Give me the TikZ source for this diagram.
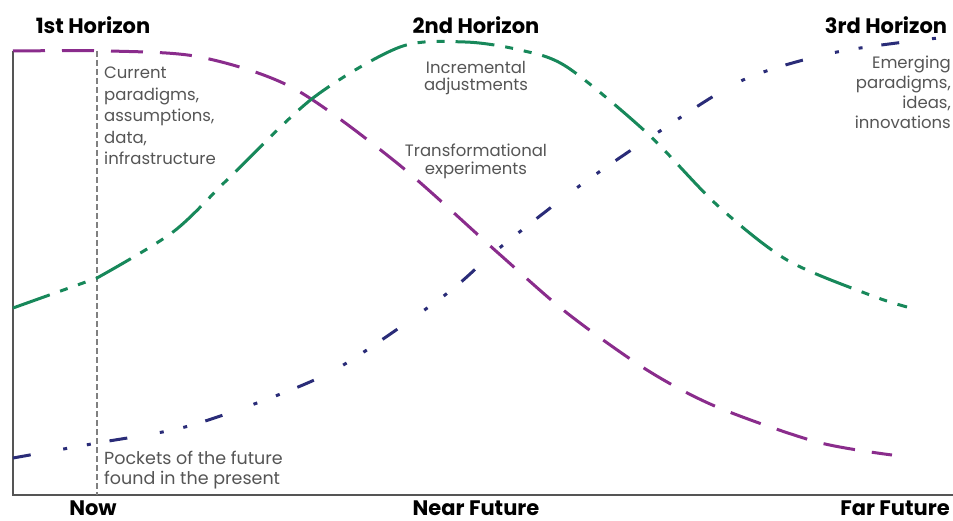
\documentclass[tikz,border=0pt]{standalone}
\usepackage{fontspec}
\setmainfont{Poppins}
\definecolor{hpurple}{HTML}{8A2C8C}
\definecolor{hgreen}{HTML}{17885A}
\definecolor{hblue}{HTML}{2A2C78}
\definecolor{hgray}{HTML}{555555}
\begin{document}
\begin{tikzpicture}[x=1pt,y=-1pt]
\tikzstyle{every node}+=[inner sep=0pt]
\tikzstyle{title}=[font=\fontsize{21}{24}\selectfont\bfseries, text=black]
\tikzstyle{note}=[font=\fontsize{16.5}{17.5}\selectfont, text=hgray]
\tikzstyle{wide note}=[font=\fontsize{16.5}{21.5}\selectfont, text=hgray]
\tikzstyle{axis}=[hgray, line width=2.5pt]
\tikzstyle{curve}=[line width=3pt]
\useasboundingbox (0,0) rectangle (953,521);
\coordinate (top) at (13,51);
\coordinate (o) at (13,495);
\coordinate (end) at (953,495);
\coordinate (nowtop) at (97,51);
\coordinate (nowbot) at (97,495);
\draw [axis] (top) -- (o) -- (end);
\draw [gray, line width=2pt, dash pattern=on 6pt off 3pt] (nowtop) -- (nowbot);
\draw [hpurple, curve, dash pattern=on 32pt off 17pt] plot [smooth] coordinates {(13,51) (110,51) (200,57) (293,88) (397,163) (497,252) (567,313) (647,370) (717,407) (817,442) (892,455)};
\draw [hgreen, curve, dash pattern=on 39pt off 11pt on 8pt off 11pt on 8pt off 11pt] (13,308) -- (97,278) plot [smooth] coordinates {(97,278) (173,232) (230,177) (313,98) (400,47) (465,42) (520,50) (567,67) (647,133) (717,205) (787,260) (870,295) (907,307)};
\draw [hblue, curve, dash pattern=on 18pt off 33pt on 4pt off 20pt on 4pt off 19pt] plot [smooth] coordinates {(13,458) (97,443) (185,427) (278,395) (345,364) (445,295) (497,250) (578,187) (657,133) (743,80) (837,52) (947,37)};
\node [title] (h1) at (93,25) {1st Horizon};
\node [title] (h2) at (476,25) {2nd Horizon};
\node [title] (h3) at (886,25) {3rd Horizon};
\node [wide note, align=left, anchor=north west] (current) at (104,67) {Current\\paradigms,\\assumptions,\\data,\\infrastructure};
\node [note, align=center, anchor=north] (incr) at (476,61) {Incremental\\adjustments};
\node [note, align=center, anchor=north] (transf) at (476,144) {Transformational\\experiments};
\node [note, align=right, anchor=north east, font=\fontsize{16.5}{20}\selectfont] (emerg) at (951,56) {Emerging\\paradigms,\\ideas,\\innovations};
\node [note, align=left, anchor=north west, font=\fontsize{17.5}{20}\selectfont] (pockets) at (104,451) {Pockets of the future\\found in the present};
\node [title] (now) at (93,508) {Now};
\node [title] (near) at (476,508) {Near Future};
\node [title] (far) at (895,508) {Far Future};
\end{tikzpicture}
\end{document}
